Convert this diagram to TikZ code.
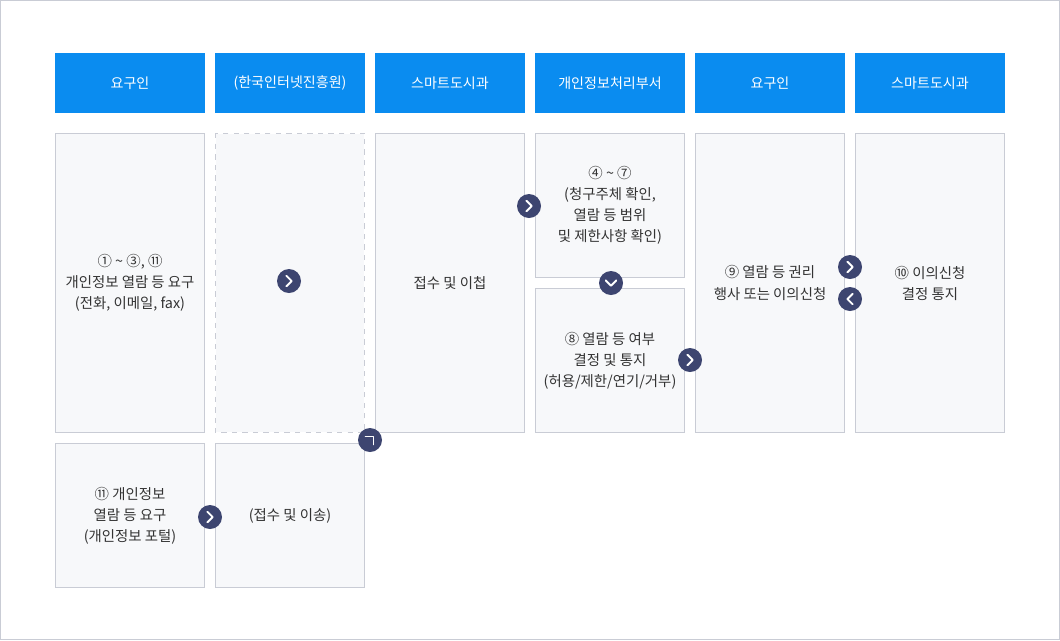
\documentclass[tikz,border=0pt]{standalone}
\usepackage{fontspec}
\setmainfont{Noto Sans CJK KR}
\definecolor{headblue}{HTML}{0A8CF0}
\definecolor{boxfill}{HTML}{F7F8FA}
\definecolor{boxline}{HTML}{C9CCD5}
\definecolor{btn}{HTML}{3D4570}
\definecolor{txt}{HTML}{333333}
\newcommand{\tld}{\char`\~}
\tikzset{
  headbox/.style={fill=headblue, text=white, minimum width=3cm, minimum height=1.2cm, inner sep=0pt, font=\fontsize{8}{10}\selectfont},
  bodybox/.style={draw=boxline, fill=boxfill, text=txt, align=center, inner sep=0pt, font=\fontsize{8.2}{12}\selectfont, minimum width=2.98cm},
  btncirc/.style={circle, fill=btn, minimum size=0.48cm, inner sep=0pt},
  chev/.style={draw=white, line width=1.1pt, line cap=round, line join=round}
}
\begin{document}
\begin{tikzpicture}[x=0.02cm, y=-0.02cm]
\draw[boxline, fill=white] (0.5,0.5) rectangle (1059.5,639.5);
\useasboundingbox (0,0) rectangle (1060,640);
% headers
\node[headbox] (h1) at (130,83) {요구인};
\node[headbox] (h2) at (290,83) {(한국인터넷진흥원)};
\node[headbox] (h3) at (450,83) {스마트도시과};
\node[headbox] (h4) at (610,83) {개인정보처리부서};
\node[headbox] (h5) at (770,83) {요구인};
\node[headbox] (h6) at (930,83) {스마트도시과};
% body
\node[bodybox, minimum height=5.98cm] (b1) at (130,283) {① \tld{} ③, ⑪\\개인정보 열람 등 요구\\(전화, 이메일, fax)};
\node[bodybox, minimum height=5.98cm, draw=none] (b2) at (290,283) {};
\draw[boxline, dashed] (b2.north west) rectangle (b2.south east);
\node[bodybox, minimum height=5.98cm] (b3) at (450,283) {접수 및 이첩};
\node[bodybox, minimum height=2.88cm] (b4a) at (610,205.5) {④ \tld{} ⑦\\(청구주체 확인,\\열람 등 범위\\및 제한사항 확인)};
\node[bodybox, minimum height=2.88cm] (b4b) at (610,360.5) {⑧ 열람 등 여부\\결정 및 통지\\(허용/제한/연기/거부)};
\node[bodybox, minimum height=5.98cm] (b5) at (770,283) {⑨ 열람 등 권리\\행사 또는 이의신청};
\node[bodybox, minimum height=5.98cm] (b6) at (930,283) {⑩ 이의신청\\결정 통지};
\node[bodybox, minimum height=2.88cm] (c1) at (130,515.5) {⑪ 개인정보\\열람 등 요구\\(개인정보 포털)};
\node[bodybox, minimum height=2.88cm] (c2) at (290,515.5) {(접수 및 이송)};
% buttons
\node[btncirc] (r1) at (289,281) {};
\draw[chev] ([xshift=-1.5pt,yshift=-3pt]r1.center) -- ([xshift=1.5pt]r1.center) -- ([xshift=-1.5pt,yshift=3pt]r1.center);
\node[btncirc] (r2) at (529,206) {};
\draw[chev] ([xshift=-1.5pt,yshift=-3pt]r2.center) -- ([xshift=1.5pt]r2.center) -- ([xshift=-1.5pt,yshift=3pt]r2.center);
\node[btncirc] (d1) at (611,283) {};
\draw[chev] ([xshift=-3pt,yshift=1.5pt]d1.center) -- ([yshift=-1.5pt]d1.center) -- ([xshift=3pt,yshift=1.5pt]d1.center);
\node[btncirc] (r3) at (690,360) {};
\draw[chev] ([xshift=-1.5pt,yshift=-3pt]r3.center) -- ([xshift=1.5pt]r3.center) -- ([xshift=-1.5pt,yshift=3pt]r3.center);
\node[btncirc] (r4) at (850,267) {};
\draw[chev] ([xshift=-1.5pt,yshift=-3pt]r4.center) -- ([xshift=1.5pt]r4.center) -- ([xshift=-1.5pt,yshift=3pt]r4.center);
\node[btncirc] (l1) at (850,299) {};
\draw[chev] ([xshift=1.5pt,yshift=-3pt]l1.center) -- ([xshift=-1.5pt]l1.center) -- ([xshift=1.5pt,yshift=3pt]l1.center);
\node[btncirc] (t1) at (370,440) {};
\draw[chev] ([xshift=-2.5pt,yshift=2pt]t1.center) -- ([xshift=2pt,yshift=2pt]t1.center) -- ([xshift=2pt,yshift=-2.5pt]t1.center);
\node[btncirc] (r5) at (210,517) {};
\draw[chev] ([xshift=-1.5pt,yshift=-3pt]r5.center) -- ([xshift=1.5pt]r5.center) -- ([xshift=-1.5pt,yshift=3pt]r5.center);
\end{tikzpicture}
\end{document}
